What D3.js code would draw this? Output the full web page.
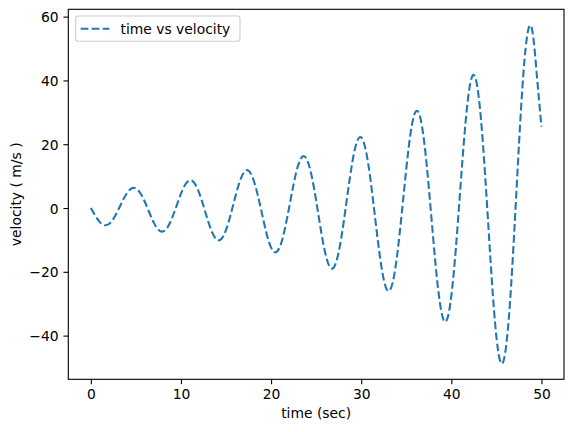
<!DOCTYPE html>
<html>
<head>
<meta charset="utf-8">
<script src="https://cdn.jsdelivr.net/npm/d3@7"></script>
<style>
  html, body { margin: 0; padding: 0; background: #fff; }
  text { font-family: "DejaVu Sans", sans-serif; }
</style>
</head>
<body>
<svg id="chart" width="574" height="432"></svg>
<script>
// ---- data ----
const timeSec = [0, 0.5, 1, 1.5, 2, 2.5, 3, 3.5, 4, 4.5,
  5, 5.5, 6, 6.5, 7, 7.5, 8, 8.5, 9, 9.5,
  10, 10.5, 11, 11.5, 12, 12.5, 13, 13.5, 14, 14.5,
  15, 15.5, 16, 16.5, 17, 17.5, 18, 18.5, 19, 19.5,
  20, 20.5, 21, 21.5, 22, 22.5, 23, 23.5, 24, 24.5,
  25, 25.5, 26, 26.5, 27, 27.5, 28, 28.5, 29, 29.5,
  30, 30.5, 31, 31.5, 32, 32.5, 33, 33.5, 34, 34.5,
  35, 35.5, 36, 36.5, 37, 37.5, 38, 38.5, 39, 39.5,
  40, 40.5, 41, 41.5, 42, 42.5, 43, 43.5, 44, 44.5,
  45, 45.5, 46, 46.5, 47, 47.5, 48, 48.5, 49, 49.5, 50];
const velocity = [0, -2.46, -4.42, -5.38, -5.02, -3.39, -0.82, 2.09, 4.62, 6.12,
  6.16, 4.64, 1.89, -1.49, -4.66, -6.82, -7.38, -6.11, -3.23, 0.60,
  4.48, 7.44, 8.67, 7.78, 4.89, 0.62, -4.02, -7.89, -9.97, -9.65,
  -6.88, -2.24, 3.20, 8.12, 11.25, 11.70, 9.24, 4.32, -1.94, -8.03,
  -12.41, -13.89, -11.96, -6.91, 0.13, 7.50, 13.36, 16.16, 15.04, 10.07,
  2.31, -6.43, -13.99, -18.42, -18.45, -13.83, -5.49, 4.65, 14.15, 20.57,
  22.14, 18.22, 9.52, -2.03, -13.66, -22.44, -26.03, -23.28, -14.48, -1.61,
  12.32, 23.89, 30.00, 28.90, 20.46, 6.46, -9.91, -24.61, -33.87, -35.09,
  -27.53, -12.66, 6.16, 24.39, 37.42, 41.69, 35.70, 20.39, -0.80, -22.90,
  -40.37, -48.57, -44.97, -29.91, -6.48, 19.76, 42.34, 55.44, 55.27, 41.20, 25.5];
const xTicks = [0, 10, 20, 30, 40, 50];
const yTicks = [-40, -20, 0, 20, 40, 60];
const seriesName = "time vs velocity";
const xLabel = "time (sec)";
const yLabel = "velocity ( m/s )";

(function () {
  // ---- layout ----
  const mLeft = 68.3, mTop = 9.3, mRight = 564, mBottom = 379.3;
  const fs = 13.89;
  const tickLen = 4.86, tickPad = 4.86;
  const color = "#1f77b4";

  const svg = d3.select("#chart");
  const x = d3.scaleLinear().domain([-2.5, 52.5]).range([mLeft, mRight]);
  const y = d3.scaleLinear().domain([-53.7, 62.3]).range([mBottom, mTop]);

  const pts = timeSec.map((t, i) => [t, velocity[i]]);

  svg.append("defs").append("clipPath").attr("id", "clip")
    .append("rect").attr("x", mLeft).attr("y", mTop)
    .attr("width", mRight - mLeft).attr("height", mBottom - mTop);

  // line
  const line = d3.line().x(d => x(d[0])).y(d => y(d[1])).curve(d3.curveNatural);
  svg.append("path")
    .attr("clip-path", "url(#clip)")
    .attr("d", line(pts))
    .attr("fill", "none")
    .attr("stroke", color)
    .attr("stroke-width", 2.08)
    .attr("stroke-dasharray", "7.7,3.33");

  // axes
  const fmt = d3.format("d");
  const xAxis = svg.append("g").attr("transform", `translate(0,${mBottom})`)
    .call(d3.axisBottom(x).tickValues(xTicks).tickFormat(fmt).tickSize(tickLen).tickPadding(tickPad));
  const yAxis = svg.append("g").attr("transform", `translate(${mLeft},0)`)
    .call(d3.axisLeft(y).tickValues(yTicks).tickFormat(fmt).tickSize(tickLen).tickPadding(tickPad));
  [xAxis, yAxis].forEach(g => {
    g.select(".domain").remove();
    g.selectAll(".tick line").attr("stroke", "#000").attr("stroke-width", 1.1);
    g.selectAll(".tick text").attr("fill", "#000").style("font-size", fs + "px")
      .style("font-family", "'DejaVu Sans', sans-serif");
  });
  yAxis.selectAll(".tick text").attr("dy", "0.36em");

  // frame
  svg.append("rect")
    .attr("x", mLeft).attr("y", mTop)
    .attr("width", mRight - mLeft).attr("height", mBottom - mTop)
    .attr("fill", "none").attr("stroke", "#000").attr("stroke-width", 1.1);

  // labels
  svg.append("text")
    .attr("x", (mLeft + mRight) / 2).attr("y", 418)
    .attr("text-anchor", "middle")
    .style("font-size", fs + "px")
    .text(xLabel);
  svg.append("text")
    .attr("transform", `translate(20.5,${(mTop + mBottom) / 2}) rotate(-90)`)
    .attr("text-anchor", "middle")
    .style("font-size", fs + "px")
    .text(yLabel);

  // legend
  const lg = svg.append("g");
  lg.append("rect")
    .attr("x", 75.7).attr("y", 16).attr("width", 164.3).attr("height", 25.3)
    .attr("rx", 2.8).attr("ry", 2.8)
    .attr("fill", "#fff").attr("fill-opacity", 0.8)
    .attr("stroke", "#cccccc").attr("stroke-width", 1.1);
  lg.append("line")
    .attr("x1", 80.7).attr("x2", 109.3).attr("y1", 28.7).attr("y2", 28.7)
    .attr("stroke", color).attr("stroke-width", 2.08)
    .attr("stroke-dasharray", "7.7,3.33");
  lg.append("text")
    .attr("x", 120.5).attr("y", 33.6)
    .style("font-size", fs + "px")
    .text(seriesName);
})();
</script>
</body>
</html>
